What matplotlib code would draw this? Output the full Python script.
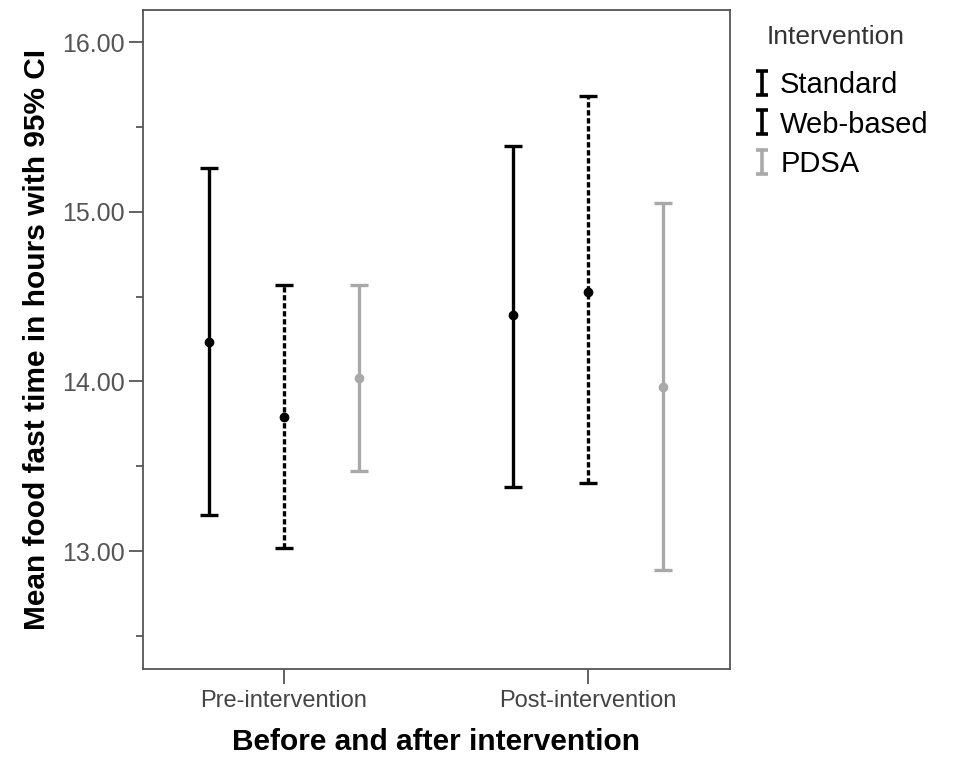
import numpy as np
import matplotlib
matplotlib.use("Agg")
import matplotlib.pyplot as plt
from matplotlib.path import Path
from matplotlib.lines import Line2D
from matplotlib.ticker import FormatStrFormatter, MultipleLocator

plt.rcParams['font.family'] = ['Liberation Sans', 'DejaVu Sans']

periods = ["Pre-intervention", "Post-intervention"]
groups = ["Standard", "Web-based", "PDSA"]
means = {
    "Standard": [14.23, 14.39],
    "Web-based": [13.79, 14.53],
    "PDSA": [14.02, 13.97],
}
lower = {
    "Standard": [13.21, 13.38],
    "Web-based": [13.02, 13.40],
    "PDSA": [13.47, 12.89],
}
upper = {
    "Standard": [15.26, 15.39],
    "Web-based": [14.57, 15.68],
    "PDSA": [14.57, 15.05],
}

colors = {"Standard": "black", "Web-based": "black", "PDSA": "#a9a9a9"}
styles = {"Standard": "-", "Web-based": (0, (1.6, 0.8)), "PDSA": "-"}
offsets = {"Standard": -0.247, "Web-based": 0.0, "PDSA": 0.247}

fig = plt.figure(figsize=(9.57, 7.61), dpi=100)
ax = fig.add_axes([0.1494, 0.1209, 0.6134, 0.866])

x = np.arange(len(periods))
for g in groups:
    m = np.array(means[g])
    err = [m - np.array(lower[g]), np.array(upper[g]) - m]
    eb = ax.errorbar(x + offsets[g], m, yerr=err, fmt="o", color=colors[g],
                     ecolor=colors[g], elinewidth=2.4, capsize=6.5, capthick=2.4,
                     markersize=6)
    eb[2][0].set_linestyle(styles[g])

ax.set_xlim(-0.464, 1.467)
ax.set_ylim(12.305, 16.19)
ax.set_xticks(x)
ax.set_xticklabels(periods)
ax.yaxis.set_major_locator(MultipleLocator(1))
ax.yaxis.set_minor_locator(MultipleLocator(0.5))
ax.yaxis.set_major_formatter(FormatStrFormatter("%.2f"))

for s in ax.spines.values():
    s.set_color("#555555")
    s.set_linewidth(1.3)
ax.tick_params(axis="y", which="major", length=10, width=1.3, color="#555555",
               labelsize=18, labelcolor="#555555", pad=3)
ax.tick_params(axis="y", which="minor", length=5, width=1.3, color="#555555")
ax.tick_params(axis="x", length=11, width=1.3, color="#555555",
               labelsize=17, labelcolor="#444444", pad=4)

ax.set_ylabel("Mean food fast time in hours with 95% CI", fontsize=21.5,
              fontweight="bold", labelpad=8)
ax.set_xlabel("Before and after intervention", fontsize=21.5,
              fontweight="bold", labelpad=12)

# I-beam legend symbol
ibeam = Path([(-0.5, 1), (0.5, 1), (0, 1), (0, -1), (-0.5, -1), (0.5, -1)],
             [Path.MOVETO, Path.LINETO, Path.MOVETO, Path.LINETO,
              Path.MOVETO, Path.LINETO])
handles = [Line2D([], [], linestyle="none", marker=ibeam, markersize=17,
                  markeredgewidth=2.6, color=colors[g]) for g in groups]
fig.text(767 / 957, 1 - 37 / 761, "Intervention", fontsize=19,
         color="#333333", va="center", ha="left")
leg = fig.legend(handles, groups, loc="upper left",
                 bbox_to_anchor=(0.775, 0.922), frameon=False, fontsize=21,
                 handlelength=0.6, handletextpad=0.32, labelspacing=0.4,
                 borderaxespad=0)

fig.savefig("out.png", dpi=100)
